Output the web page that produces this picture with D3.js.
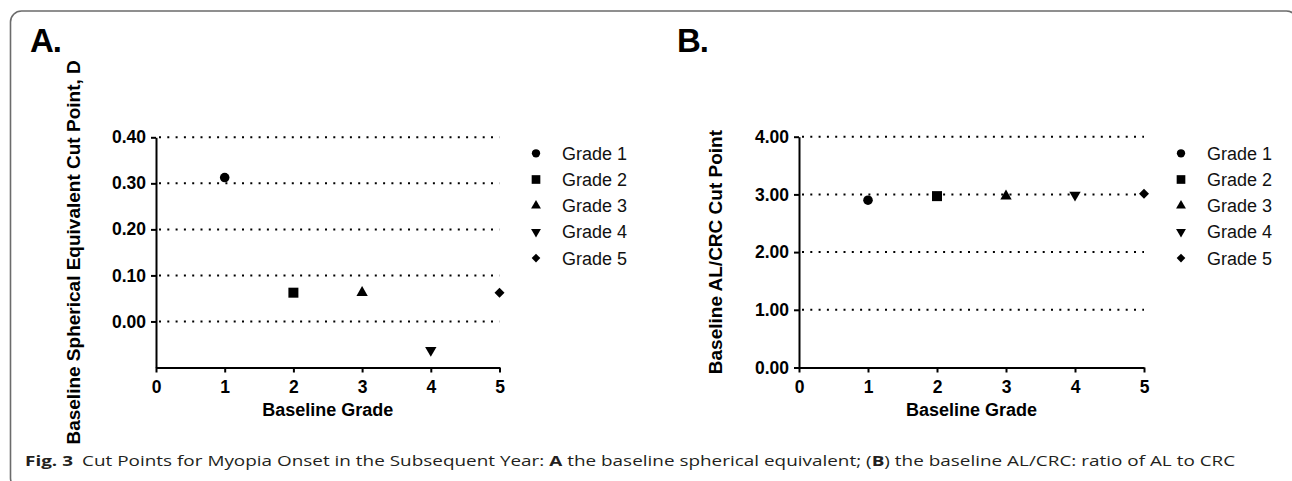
<!DOCTYPE html>
<html lang="en">
  <head>
    <meta charset="UTF-8" />
    <title>Fig. 3 Cut Points for Myopia Onset</title>
    <style>
      body { margin: 0; background: #fff; }
      svg { display: block; }
      .axis path, .axis line { stroke: #000; stroke-width: 2; }
      .axis text { font-family: "Liberation Sans", Arial, sans-serif; font-weight: bold; font-size: 17.5px; fill: #000; }
      .grid { stroke: #000; stroke-width: 2; stroke-dasharray: 2 6.3; }
      .ytitle, .xtitle { font-family: "Liberation Sans", Arial, sans-serif; font-weight: bold; fill: #000; }
      .legend text { font-family: "Liberation Sans", Arial, sans-serif; font-size: 18px; fill: #111; }
      .caption { font-family: "Open Sans", "Noto Sans", sans-serif; font-size: 14.5px; fill: #231f20; }
    </style>
  </head>
  <body>
    <div id="chart"></div>

    <script src="https://cdn.jsdelivr.net/npm/d3@7"></script>
    <script>
      // data
      var grades = [1, 2, 3, 4, 5];
      var gradeLabels = ["Grade 1", "Grade 2", "Grade 3", "Grade 4", "Grade 5"];
      var seCutPoints = [0.3125, 0.0625, 0.0625, -0.0625, 0.0625];
      var alcrcCutPoints = [2.90, 2.97, 2.97, 2.99, 3.01];
      var gradeTicks = [0, 1, 2, 3, 4, 5];
      var seTicks = [0, 0.1, 0.2, 0.3, 0.4];
      var alcrcTicks = [0, 1, 2, 3, 4];

      var width = 1292, height = 481;

      var svg = d3.select("#chart")
                  .append("svg")
                  .attr("width", width)
                  .attr("height", height);

      // frame round the figure
      svg.append("rect")
         .attr("x", 10.5).attr("y", 11)
         .attr("width", 1287).attr("height", 478)
         .attr("rx", 11).attr("ry", 11)
         .attr("fill", "none")
         .attr("stroke", "#6b6b6b")
         .attr("stroke-width", 1.6);

      // marker shapes, one per grade
      var shapes = [
        {type: d3.symbolCircle, size: 72, rot: 0},
        {type: d3.symbolSquare, size: 100, rot: 0},
        {type: d3.symbolTriangle, size: 56, rot: 0},
        {type: d3.symbolTriangle, size: 56, rot: 180},
        {type: d3.symbolSquare, size: 50, rot: 45}
      ];
      var legendScale = 0.75;

      function drawPanel(p) {
        var xScale = d3.scaleLinear().domain([0, 5]).range(p.xRange);
        var yScale = d3.scaleLinear().domain(p.yDomain).range(p.yRange);
        var g = svg.append("g");

        // dotted grid
        g.selectAll(".grid")
         .data(p.gridValues)
         .enter()
         .append("line")
         .attr("class", "grid")
         .attr("x1", p.xRange[0] + 3)
         .attr("x2", p.xRange[1])
         .attr("y1", function(d){ return yScale(d); })
         .attr("y2", function(d){ return yScale(d); });

        var yAxis = d3.axisLeft(yScale)
                      .tickValues(p.yTicks)
                      .tickSize(5)
                      .tickSizeOuter(0)
                      .tickPadding(5)
                      .tickFormat(d3.format(".2f"));
        g.append("g")
         .attr("class", "axis")
         .attr("transform", "translate(" + p.xRange[0] + ",0)")
         .call(yAxis);

        var xAxis = d3.axisBottom(xScale)
                      .tickValues(gradeTicks)
                      .tickSize(5)
                      .tickSizeOuter(0)
                      .tickPadding(8)
                      .tickFormat(d3.format("d"));
        g.append("g")
         .attr("class", "axis")
         .attr("transform", "translate(0," + p.yRange[0] + ")")
         .call(xAxis);

        // points
        g.selectAll(".pt")
         .data(grades)
         .enter()
         .append("path")
         .attr("class", "pt")
         .attr("d", function(d, i){ return d3.symbol().type(shapes[i].type).size(shapes[i].size)(); })
         .attr("transform", function(d, i){
           return "translate(" + xScale(d) + "," + yScale(p.values[i]) + ") rotate(" + shapes[i].rot + ")";
         })
         .attr("fill", "#000");

        // titles
        g.append("text")
         .attr("class", "xtitle")
         .attr("x", (p.xRange[0] + p.xRange[1]) / 2)
         .attr("y", 416)
         .attr("text-anchor", "middle")
         .attr("font-size", 18)
         .text("Baseline Grade");

        g.append("text")
         .attr("class", "ytitle")
         .attr("transform", "translate(" + p.yTitleX + "," + ((p.yRange[0] + p.yRange[1]) / 2) + ") rotate(-90)")
         .attr("text-anchor", "middle")
         .attr("font-size", 19)
         .text(p.yTitle);

        g.append("text")
         .attr("class", "ytitle")
         .attr("x", p.letterX)
         .attr("y", 52)
         .attr("font-size", 33)
         .attr("letter-spacing", -1)
         .text(p.letter);

        // legend
        var leg = g.append("g").attr("class", "legend");
        var rows = leg.selectAll("g")
                      .data(gradeLabels)
                      .enter()
                      .append("g")
                      .attr("transform", function(d, i){ return "translate(" + p.legendX + "," + (153.3 + i * 26.2) + ")"; });
        rows.append("path")
            .attr("d", function(d, i){ return d3.symbol().type(shapes[i].type).size(shapes[i].size * legendScale)(); })
            .attr("transform", function(d, i){ return "rotate(" + shapes[i].rot + ")"; })
            .attr("fill", "#000");
        rows.append("text")
            .attr("x", 26)
            .attr("dy", "0.36em")
            .text(function(d){ return d; });
      }

      drawPanel({
        letter: "A.", letterX: 30,
        xRange: [156, 499.5], yRange: [367.5, 137.3],
        yDomain: [-0.1, 0.4], yTicks: seTicks, gridValues: seTicks,
        values: seCutPoints,
        yTitle: "Baseline Spherical Equivalent Cut Point, D", yTitleX: 79.5,
        legendX: 536
      });

      drawPanel({
        letter: "B.", letterX: 677,
        xRange: [799, 1144], yRange: [367.5, 136.7],
        yDomain: [0, 4], yTicks: alcrcTicks, gridValues: alcrcTicks.slice(1),
        values: alcrcCutPoints,
        yTitle: "Baseline AL/CRC Cut Point", yTitleX: 721.5,
        legendX: 1181
      });

      // caption, fitted to the width it has in the figure
      var cap = svg.append("text")
                   .attr("class", "caption")
                   .attr("x", 0)
                   .attr("y", 0);
      cap.append("tspan").attr("font-weight", "bold").text("Fig. 3");
      cap.append("tspan").attr("dx", 7).text("Cut Points for Myopia Onset in the Subsequent Year: ");
      cap.append("tspan").attr("font-weight", "bold").text("A");
      cap.append("tspan").text(" the baseline spherical equivalent; (");
      cap.append("tspan").attr("font-weight", "bold").text("B");
      cap.append("tspan").text(") the baseline AL/CRC: ratio of AL to CRC");
      var capW = cap.node().getComputedTextLength();
      var capTarget = 1227 - 25;
      cap.attr("transform", "translate(25,466) scale(" + (capTarget / capW) + ",1)");
    </script>
  </body>
</html>
